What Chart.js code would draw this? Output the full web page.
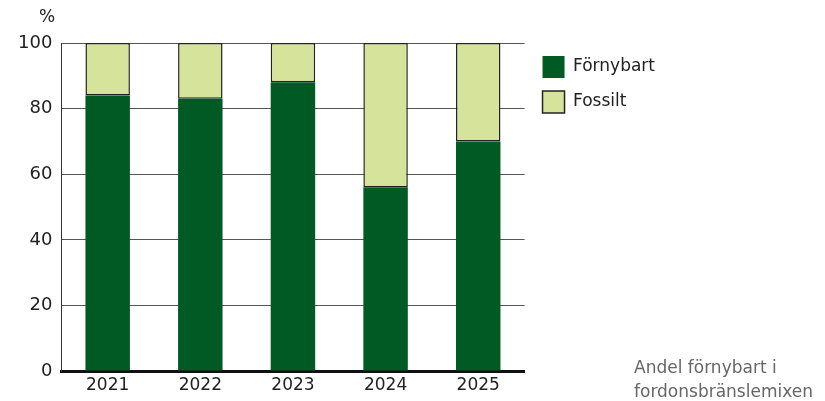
<!DOCTYPE html>
<html>
<head>
<meta charset="utf-8">
<script src="https://cdn.jsdelivr.net/npm/chart.js@4"></script>
<style>
  body { margin: 0; background: #fff; font-family: "DejaVu Sans", sans-serif; }
  #wrap { position: relative; width: 825px; height: 401px; }
  #unit { position: absolute; left: 39px; top: 6px; font-size: 17px; color: #222; }
  #note { position: absolute; left: 634px; top: 355px; font-size: 17px; line-height: 24px; color: #666; }
</style>
</head>
<body>
<div id="wrap">
  <canvas id="chart" width="825" height="401"></canvas>
  <div id="unit">%</div>
  <div id="note">Andel förnybart i<br>fordonsbränslemixen</div>
</div>
<script>
const years = ['2021', '2022', '2023', '2024', '2025'];
const fornybart = [84, 83, 88, 56, 70];
const fossilt = [16, 17, 12, 44, 30];
const yTicks = [0, 20, 40, 60, 80, 100];

const font = 'DejaVu Sans';

const ctx = document.getElementById('chart').getContext('2d');
new Chart(ctx, {
    type: 'bar',
    data: {
        labels: years,
        datasets: [{
            label: 'Förnybart',
            data: fornybart,
            backgroundColor: '#015a24',
            borderWidth: 0,
            barPercentage: 0.48,
            categoryPercentage: 1
        }, {
            label: 'Fossilt',
            data: fossilt,
            backgroundColor: '#d6e39a',
            borderColor: '#222',
            borderWidth: 1.5,
            borderSkipped: false,
            barPercentage: 0.48,
            categoryPercentage: 1
        }]
    },
    options: {
        responsive: false,
        animation: false,
        layout: { padding: { top: 43, right: 160, left: 9, bottom: 0 } },
        plugins: {
            tooltip: { enabled: false },
            legend: {
                position: 'right',
                align: 'start',
                maxWidth: 170,
                labels: {
                    boxWidth: 22,
                    boxHeight: 22,
                    padding: 13,
                    color: '#222',
                    font: { family: font, size: 17 }
                }
            }
        },
        scales: {
            x: {
                stacked: true,
                grid: { display: false, drawTicks: false },
                border: { display: true, color: '#111', width: 3 },
                ticks: { color: '#222', padding: 8, font: { family: font, size: 17, lineHeight: 0.82 } }
            },
            y: {
                stacked: true,
                min: 0,
                max: 100,
                afterBuildTicks: axis => { axis.ticks = yTicks.map(v => ({ value: v })); },
                grid: {
                    color: '#555',
                    lineWidth: 1,
                    drawTicks: false
                },
                border: { display: true, color: '#333', width: 1 },
                ticks: { color: '#222', padding: 9, font: { family: font, size: 18 } }
            },
            // empty spacer between the plot and the legend
            gap: {
                position: 'right',
                display: true,
                grid: { display: false, drawTicks: false },
                border: { display: false },
                ticks: { display: false },
                afterFit: axis => { axis.width = 5; }
            }
        }
    }
});
</script>
</body>
</html>
